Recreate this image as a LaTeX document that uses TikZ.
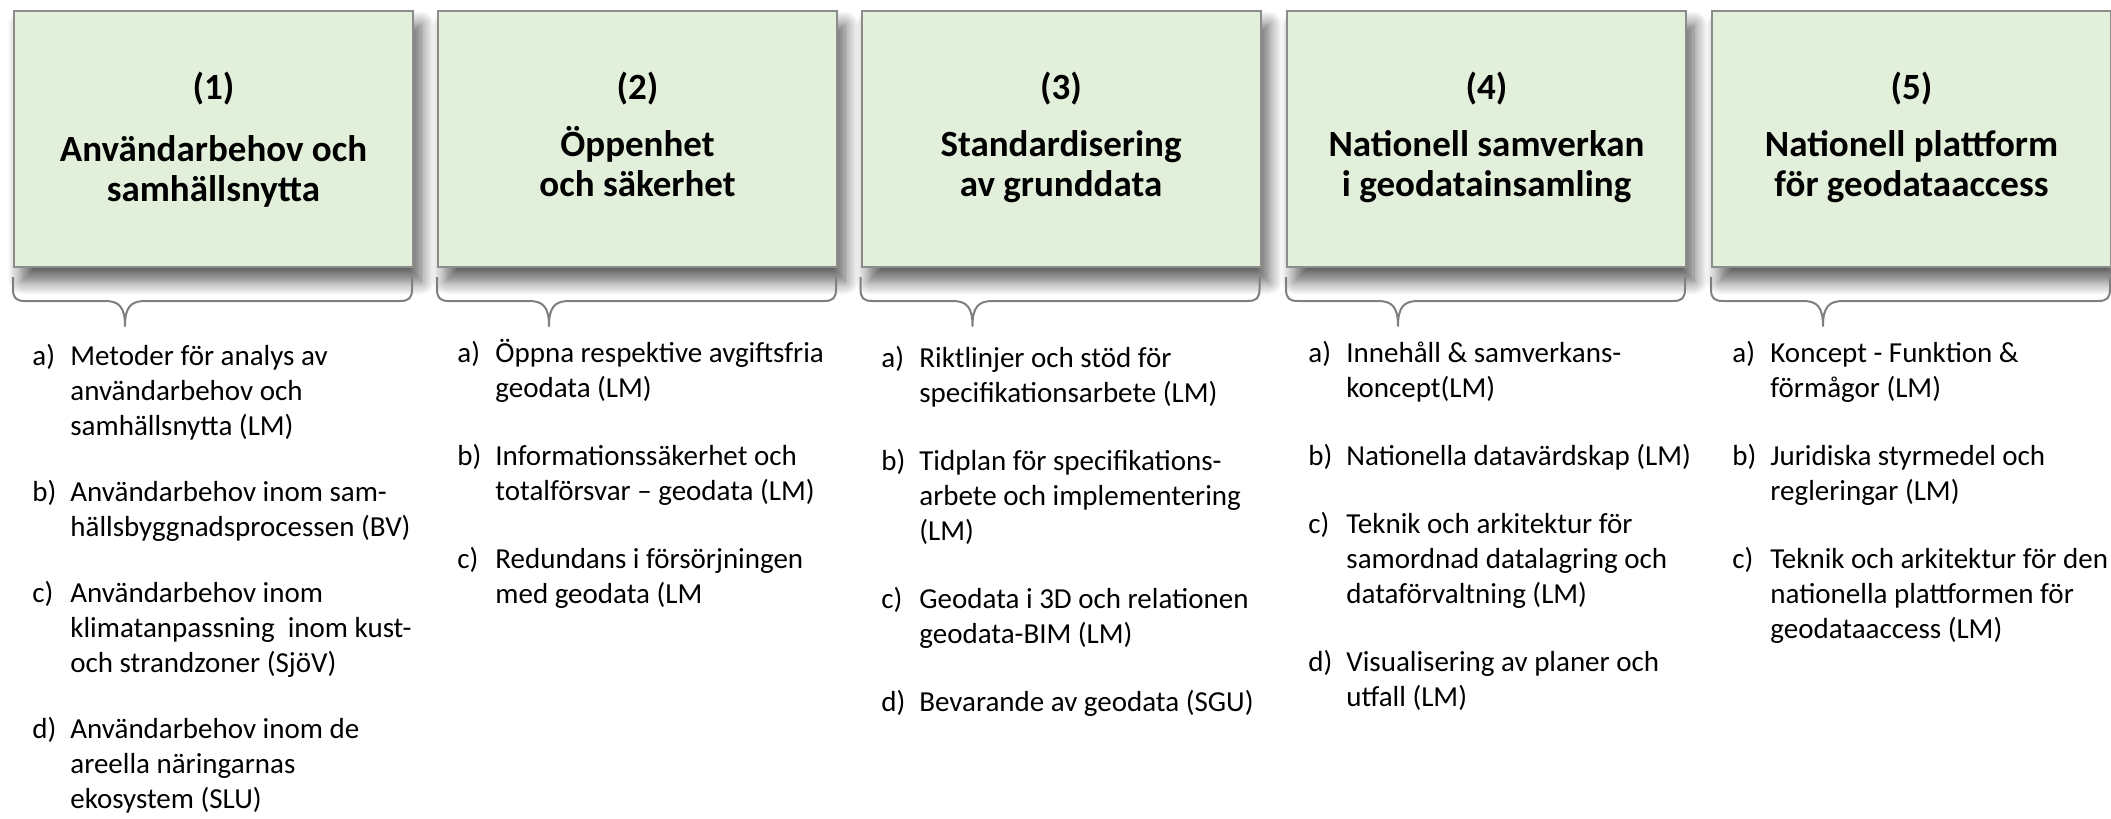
\documentclass[tikz,border=0pt]{standalone}
\usepackage{fontspec}
\setmainfont{Carlito}
\usetikzlibrary{shadows.blur,calc}
\definecolor{boxfill}{HTML}{E2EFDA}
\definecolor{boxline}{HTML}{8C8C8C}
\definecolor{braceline}{HTML}{7F7F7F}
\tikzset{
  box/.style={draw=boxline, line width=1pt, fill=boxfill, minimum width=199.5pt,
    minimum height=128pt, inner sep=0pt,
    blur shadow={shadow xshift=4pt, shadow yshift=-7pt, shadow blur radius=7pt,
      shadow blur steps=14, shadow opacity=65}},
  numtext/.style={font=\fontsize{18.5}{20}\selectfont\bfseries, anchor=base, inner sep=0pt},
  titletext/.style={font=\fontsize{18.5}{20}\selectfont\bfseries, anchor=base, inner sep=0pt},
  coltext/.style={font=\fontsize{14.5}{17.5}\selectfont, anchor=base west, inner sep=0pt},
  bracestyle/.style={draw=braceline, line width=1pt, line join=round},
}
\newcommand\ttl[2]{\begin{tabular}[t]{@{}c@{}}#1\\#2\end{tabular}}
\begin{document}
\begin{tikzpicture}[x=0.5pt, y=-0.5pt]
\useasboundingbox (0,0) rectangle (2111,819);
% boxes
\foreach \i/\L in {1/13, 2/437, 3/860.5, 4/1286, 5/1711}{
  \node[box, anchor=north west] (b\i) at (\L,10) {};
}
% braces
\foreach \i in {1,...,5}{
  \draw[bracestyle] ($(b\i.south west)+(0,9)$) -- ++(0,12)
    .. controls +(0,9) and +(-9,0) .. ++(12,12)
    -- ++(80,0)
    .. controls +(14,0) and +(0,-19) .. ++(20,25)
    .. controls +(0,-19) and +(-14,0) .. ++(20,-25)
    -- ++(255,0)
    .. controls +(9,0) and +(0,9) .. ++(12,-12)
    -- ++(0,-12);
}
% numbers and titles
\foreach \i in {1,...,5}{
  \node[numtext] (n\i) at ($(b\i.north)+(0,89)$) {(\i)};
}
\node[titletext] (t1) at ($(b1.north)+(0,151)$) {\ttl{Användarbehov och}{samhällsnytta}};
\node[titletext] (t2) at ($(b2.north)+(0,146)$) {\ttl{Öppenhet}{och säkerhet}};
\node[titletext] (t3) at ($(b3.north)+(0,146)$) {\ttl{Standardisering}{av grunddata}};
\node[titletext] (t4) at ($(b4.north)+(0,146)$) {\ttl{Nationell samverkan}{i geodatainsamling}};
\node[titletext] (t5) at ($(b5.north)+(0,146)$) {\ttl{Nationell plattform}{för geodataaccess}};
% columns
\node[coltext] (c1) at (32,365) {\begin{tabular}[t]{@{}p{19pt}@{}l@{}}
a) & Metoder för analys av\\
   & användarbehov och\\
   & samhällsnytta (LM)\\[15.5pt]
b) & Användarbehov inom sam-\\
   & hällsbyggnadsprocessen (BV)\\[15.5pt]
c) & Användarbehov inom\\
   & klimatanpassning\ \ inom kust-\\
   & och strandzoner (SjöV)\\[15.5pt]
d) & Användarbehov inom de\\
   & areella näringarnas\\
   & ekosystem (SLU)
\end{tabular}};
\node[coltext] (c2) at (457,362) {\begin{tabular}[t]{@{}p{19pt}@{}l@{}}
a) & Öppna respektive avgiftsfria\\
   & geodata (LM)\\[16.5pt]
b) & Informationssäkerhet och\\
   & totalförsvar – geodata (LM)\\[16.5pt]
c) & Redundans i försörjningen\\
   & med geodata (LM
\end{tabular}};
\node[coltext] (c3) at (881,367) {\begin{tabular}[t]{@{}p{19pt}@{}l@{}}
a) & Riktlinjer och stöd för\\
   & specifikationsarbete (LM)\\[16.5pt]
b) & Tidplan för specifikations-\\
   & arbete och implementering\\
   & (LM)\\[16.5pt]
c) & Geodata i 3D och relationen\\
   & geodata-BIM (LM)\\[16.5pt]
d) & Bevarande av geodata (SGU)
\end{tabular}};
\node[coltext] (c4) at (1308,362) {\begin{tabular}[t]{@{}p{19pt}@{}l@{}}
a) & Innehåll \& samverkans-\\
   & koncept(LM)\\[16.5pt]
b) & Nationella datavärdskap (LM)\\[16.5pt]
c) & Teknik och arkitektur för\\
   & samordnad datalagring och\\
   & dataförvaltning (LM)\\[16.5pt]
d) & Visualisering av planer och\\
   & utfall (LM)
\end{tabular}};
\node[coltext] (c5) at (1732,362) {\begin{tabular}[t]{@{}p{19pt}@{}l@{}}
a) & Koncept - Funktion \&\\
   & förmågor (LM)\\[16.5pt]
b) & Juridiska styrmedel och\\
   & regleringar (LM)\\[16.5pt]
c) & Teknik och arkitektur för den\\
   & nationella plattformen för\\
   & geodataaccess (LM)
\end{tabular}};
\end{tikzpicture}
\end{document}
